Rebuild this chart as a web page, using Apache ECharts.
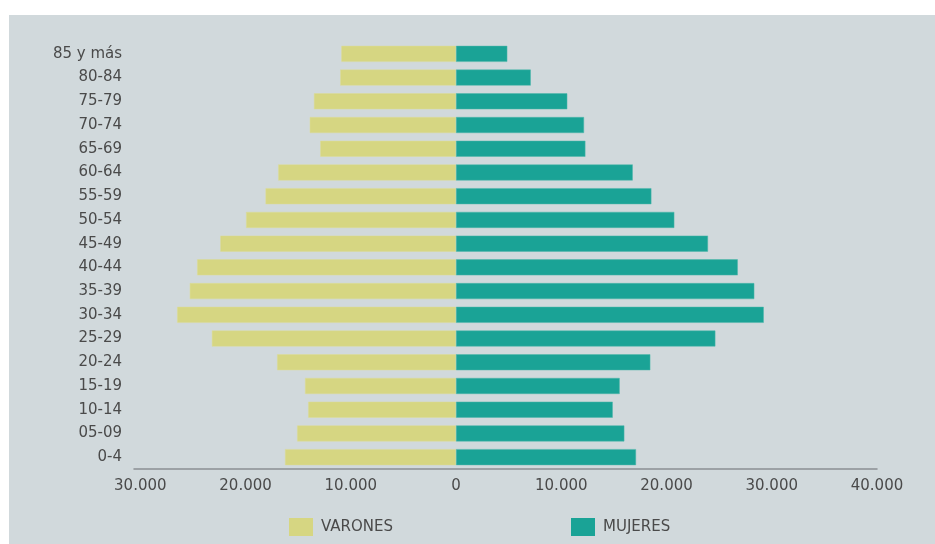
<!DOCTYPE html>
<html>
<head>
<meta charset="utf-8">
<script src="https://cdn.jsdelivr.net/npm/echarts@6/dist/echarts.min.js"></script>
<style>
  html, body { margin: 0; padding: 0; background: #ffffff; }
  #panel { position: absolute; left: 9px; top: 15px; width: 926px; height: 529px; background: #d1d9dc; }
  #chart { position: absolute; left: 0; top: 0; width: 935px; height: 544px; }
</style>
</head>
<body>
<div id="panel"></div>
<div id="chart"></div>
<script>
// Age groups, top to bottom
const categories = ['85 y más','80-84','75-79','70-74','65-69','60-64','55-59','50-54','45-49','40-44','35-39','30-34','25-29','20-24','15-19','10-14','05-09','0-4'];
// Men (plotted to the left)
const varones = [10900, 11000, 13500, 13900, 12900, 16900, 18100, 19950, 22400, 24600, 25300, 26500, 23200, 17000, 14350, 14050, 15100, 16250];
// Women (plotted to the right)
const mujeres = [4870, 7100, 10570, 12160, 12290, 16790, 18560, 20740, 23940, 26770, 28340, 29240, 24640, 18460, 15550, 14890, 15990, 17100];
// Tick labels of the value axis
const tickValues = [-30000, -20000, -10000, 0, 10000, 20000, 30000, 40000];

const fmt = v => {
  const a = Math.abs(Math.round(v));
  return a.toString().replace(/\B(?=(\d{3})+(?!\d))/g, '.');
};

const FONT = 'DejaVu Sans';
const TXT = '#4a4a4a';
const YELLOW = '#d6d682';
const TEAL = '#1aa396';

const chart = echarts.init(document.getElementById('chart'), null, { renderer: 'canvas' });
chart.setOption({
  backgroundColor: 'transparent',
  animation: false,
  textStyle: { fontFamily: FONT },
  grid: { left: 134, right: 58, top: 42, bottom: 75, containLabel: false },
  legend: [
    {
      data: ['VARONES'], left: 289, top: 518, padding: 0, itemWidth: 24, itemHeight: 18,
      icon: 'rect', itemStyle: { borderWidth: 0 },
      textStyle: { fontFamily: FONT, fontSize: 15, color: TXT, padding: [0, 0, 0, 3] }
    },
    {
      data: ['MUJERES'], left: 571, top: 518, padding: 0, itemWidth: 24, itemHeight: 18,
      icon: 'rect', itemStyle: { borderWidth: 0 },
      textStyle: { fontFamily: FONT, fontSize: 15, color: TXT, padding: [0, 0, 0, 3] }
    }
  ],
  xAxis: {
    type: 'value',
    min: -30600,
    max: 40000,
    axisLine: { show: true, lineStyle: { color: '#8a8f92', width: 1.5 } },
    axisTick: { show: false },
    splitLine: { show: false },
    axisLabel: {
      customValues: tickValues,
      formatter: fmt,
      fontFamily: FONT, fontSize: 15, color: TXT, margin: 10
    }
  },
  yAxis: {
    type: 'category',
    data: categories,
    inverse: true,
    axisLine: { show: false },
    axisTick: { show: false },
    axisLabel: { fontFamily: FONT, fontSize: 15, color: TXT, margin: 12 }
  },
  series: [
    {
      name: 'VARONES', type: 'bar',
      data: varones.map(v => -v),
      barWidth: 16, barGap: '-100%',
      itemStyle: { color: YELLOW, borderColor: '#dcdc98', borderWidth: 0.5 }
    },
    {
      name: 'MUJERES', type: 'bar',
      data: mujeres,
      barWidth: 16, barGap: '-100%',
      itemStyle: { color: TEAL, borderColor: '#4fb6aa', borderWidth: 0.5 }
    }
  ]
});
</script>
</body>
</html>
